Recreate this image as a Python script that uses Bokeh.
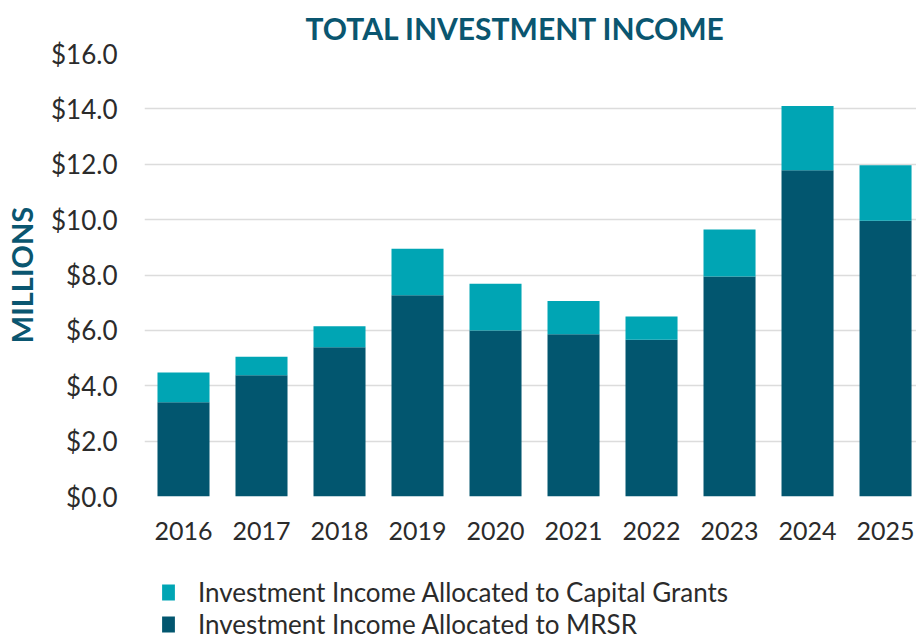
from bokeh.plotting import figure
from bokeh.layouts import column
from bokeh.models import (Range1d, NumeralTickFormatter, SingleIntervalTicker, FixedTicker,
                          Legend, LegendItem, ColumnDataSource)
from bokeh.embed import file_html
from bokeh.resources import INLINE

years = ["2016", "2017", "2018", "2019", "2020", "2021", "2022", "2023", "2024", "2025"]
mrsr = [3.40, 4.38, 5.39, 7.27, 6.00, 5.86, 5.66, 7.95, 11.78, 9.96]
capital_grants = [1.08, 0.67, 0.76, 1.68, 1.68, 1.20, 0.84, 1.69, 2.32, 2.00]
series_labels = ["Investment Income Allocated to Capital Grants", "Investment Income Allocated to MRSR"]

DARK = "#02566F"
TEAL = "#00A5B4"
TEXT = "#2B2B2B"
FONT = "Lato"

idx = list(range(len(years)))
source = ColumnDataSource(dict(x=idx, mrsr=mrsr, capital=capital_grants))

p = figure(width=916, height=560, output_backend="svg", toolbar_location=None,
           x_range=Range1d(-0.5, 9.397), y_range=Range1d(0, 16),
           min_border_left=144, min_border_right=0, min_border_top=52, min_border_bottom=64)
p.outline_line_color = None
p.background_fill_color = "white"
p.border_fill_color = "white"

renderers = p.vbar_stack(["mrsr", "capital"], x="x", width=0.667, source=source,
                         color=[DARK, TEAL], line_color=None)

p.title.text = "TOTAL INVESTMENT INCOME"
p.title.align = "left"
p.title.text_font = FONT
p.title.text_font_size = "30px"
p.title.text_font_style = "bold"
p.title.text_color = "#0A5670"
p.title.offset = 161
p.title.standoff = 15

# y axis
yax = p.yaxis[0]
yax.ticker = SingleIntervalTicker(interval=2)
yax.formatter = NumeralTickFormatter(format="$0.0")
yax.axis_line_color = None
yax.major_tick_line_color = None
yax.minor_tick_line_color = None
yax.major_label_text_font = FONT
yax.major_label_text_font_size = "26px"
yax.major_label_text_color = TEXT
yax.major_label_standoff = 21
yax.axis_label = "MILLIONS"
yax.axis_label_text_font = FONT
yax.axis_label_text_font_size = "29px"
yax.axis_label_text_font_style = "bold"
yax.axis_label_text_color = "#0A5670"
yax.axis_label_standoff = 9

# x axis
xax = p.xaxis[0]
xax.ticker = FixedTicker(ticks=idx)
xax.major_label_overrides = {i: y for i, y in zip(idx, years)}
xax.axis_line_color = None
xax.major_tick_line_color = None
xax.minor_tick_line_color = None
xax.major_label_text_font = FONT
xax.major_label_text_font_size = "25px"
xax.major_label_text_color = TEXT
xax.major_label_standoff = 19

p.xgrid.grid_line_color = None
p.ygrid.grid_line_color = "#DCDCDC"
p.ygrid.grid_line_width = 1.5
p.ygrid.ticker = SingleIntervalTicker(interval=2)

# legend strip below the chart (its key glyphs use the same data, kept out of view)
lg = figure(frame_width=772, frame_height=79, output_backend="svg", toolbar_location=None,
            x_axis_type=None, y_axis_type=None,
            x_range=Range1d(100, 101), y_range=Range1d(100, 101),
            min_border_left=144, min_border_right=0, min_border_top=0, min_border_bottom=0)
lg.outline_line_color = None
lg.grid.grid_line_color = None
k = lg.vbar_stack(["mrsr", "capital"], x="x", width=0.667, source=source,
                  color=[DARK, TEAL], line_color=None)

legend = Legend(items=[LegendItem(label=series_labels[0], renderers=[k[1]]),
                       LegendItem(label=series_labels[1], renderers=[k[0]])],
                location="top_left", orientation="vertical")
legend.border_line_color = None
legend.background_fill_alpha = 0
legend.label_text_font = FONT
legend.label_text_font_size = "26px"
legend.label_text_color = TEXT
legend.glyph_width = 16
legend.glyph_height = 20
legend.label_height = 30
legend.spacing = 0
legend.label_standoff = 22
legend.padding = 0
legend.margin = 16
lg.add_layout(legend)

layout = column(p, lg, spacing=0)
open("out.html", "w").write(file_html(layout, INLINE))
